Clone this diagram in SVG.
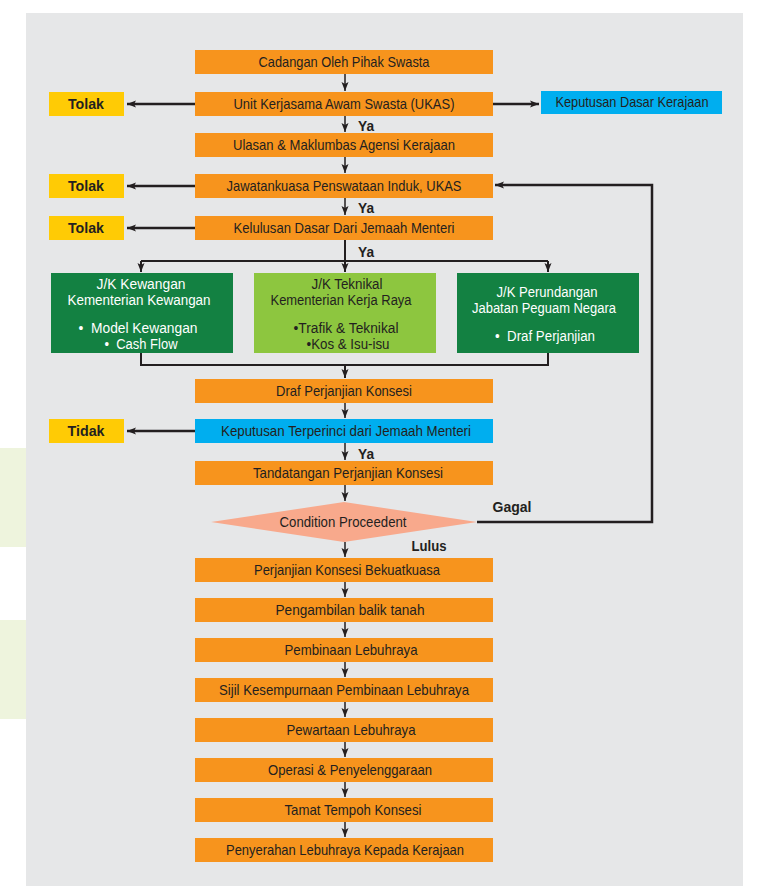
<svg xmlns="http://www.w3.org/2000/svg" width="769" height="886" viewBox="0 0 769 886">
<style>
.t{font-family:"Liberation Sans Narrow","Liberation Sans","DejaVu Sans Condensed",Arial,sans-serif;font-size:15px;fill:#231f20;text-anchor:middle}
.s{font-size:14px}
.w{fill:#ffffff}
.b{font-weight:bold;font-size:15px}
.or{fill:#f7941d}
.bl{fill:#00aeef}
.ye{fill:#ffcb05}
.dg{fill:#138142}
.lg{fill:#8dc63f}
.c{fill:none;stroke:#231f20}
.thin{stroke-width:1.5}
.thick{stroke-width:2.5}
.mid{stroke-width:2}
</style>
<defs>
<marker id="ah" markerUnits="userSpaceOnUse" markerWidth="10" markerHeight="10" viewBox="0 0 10 10" refX="9" refY="5" orient="auto">
<path d="M0,1.5 L9,5 L0,8.5 L2,5 z" fill="#231f20"/>
</marker>
</defs>
<rect x="0" y="0" width="769" height="886" fill="#ffffff"/>
<rect x="26" y="13" width="717" height="873" fill="#e6e7e8"/>
<rect x="0" y="448" width="26" height="99" fill="#eef4dd"/>
<rect x="0" y="620" width="26" height="99" fill="#eef4dd"/>

<g id="n1"><rect class="or" x="195" y="50" width="298" height="24"/><text class="t" x="344" y="67" textLength="171" lengthAdjust="spacingAndGlyphs">Cadangan Oleh Pihak Swasta</text></g>
<g id="n2"><rect class="or" x="195" y="92" width="298" height="24"/><text class="t" x="344" y="109" textLength="221" lengthAdjust="spacingAndGlyphs">Unit Kerjasama Awam Swasta (UKAS)</text></g>
<g id="tolak1"><rect class="ye" x="49" y="92" width="75" height="24"/><text class="t b" x="86" y="109" textLength="36" lengthAdjust="spacingAndGlyphs">Tolak</text></g>
<g id="kdk"><rect class="bl" x="541" y="91" width="181" height="23"/><text class="t" x="632" y="107" textLength="153" lengthAdjust="spacingAndGlyphs">Keputusan Dasar Kerajaan</text></g>
<g id="n3"><rect class="or" x="195" y="133" width="298" height="24"/><text class="t" x="344" y="150" textLength="222" lengthAdjust="spacingAndGlyphs">Ulasan &amp; Maklumbas Agensi Kerajaan</text></g>
<g id="n4"><rect class="or" x="195" y="174" width="298" height="24"/><text class="t" x="344" y="191" textLength="235" lengthAdjust="spacingAndGlyphs">Jawatankuasa Penswataan Induk, UKAS</text></g>
<g id="tolak2"><rect class="ye" x="49" y="174" width="75" height="24"/><text class="t b" x="86" y="191" textLength="36" lengthAdjust="spacingAndGlyphs">Tolak</text></g>
<g id="n5"><rect class="or" x="195" y="216" width="298" height="24"/><text class="t" x="344" y="233" textLength="221" lengthAdjust="spacingAndGlyphs">Kelulusan Dasar Dari Jemaah Menteri</text></g>
<g id="tolak3"><rect class="ye" x="49" y="216" width="75" height="24"/><text class="t b" x="86" y="233" textLength="36" lengthAdjust="spacingAndGlyphs">Tolak</text></g>

<g id="g1"><rect class="dg" x="51" y="273" width="182" height="80"/>
<text class="t s w" x="141" y="289" textLength="89" lengthAdjust="spacingAndGlyphs">J/K Kewangan</text>
<text class="t s w" x="139" y="305" textLength="143" lengthAdjust="spacingAndGlyphs">Kementerian Kewangan</text>
<text class="t s w" x="138" y="333" textLength="119" lengthAdjust="spacingAndGlyphs">•&#160;&#160;Model Kewangan</text>
<text class="t s w" x="141" y="349" textLength="73" lengthAdjust="spacingAndGlyphs">•&#160;&#160;Cash Flow</text></g>
<g id="g2"><rect class="lg" x="254" y="273" width="182" height="80"/>
<text class="t s" x="347" y="289" textLength="71" lengthAdjust="spacingAndGlyphs">J/K Teknikal</text>
<text class="t s" x="341" y="305" textLength="141" lengthAdjust="spacingAndGlyphs">Kementerian Kerja Raya</text>
<text class="t s" x="346" y="333" textLength="105" lengthAdjust="spacingAndGlyphs">•Trafik &amp; Teknikal</text>
<text class="t s" x="348" y="349" textLength="83" lengthAdjust="spacingAndGlyphs">•Kos &amp; Isu-isu</text></g>
<g id="g3"><rect class="dg" x="457" y="273" width="182" height="80"/>
<text class="t s w" x="547" y="297" textLength="101" lengthAdjust="spacingAndGlyphs">J/K Perundangan</text>
<text class="t s w" x="544" y="313" textLength="144" lengthAdjust="spacingAndGlyphs">Jabatan Peguam Negara</text>
<text class="t s w" x="545" y="341" textLength="100" lengthAdjust="spacingAndGlyphs">•&#160;&#160;Draf Perjanjian</text></g>

<g id="n6"><rect class="or" x="195" y="379" width="298" height="24"/><text class="t" x="344" y="396" textLength="136" lengthAdjust="spacingAndGlyphs">Draf Perjanjian Konsesi</text></g>
<g id="n7"><rect class="bl" x="195" y="419" width="298" height="24"/><text class="t" x="346" y="436" textLength="250" lengthAdjust="spacingAndGlyphs">Keputusan Terperinci dari Jemaah Menteri</text></g>
<g id="tidak"><rect class="ye" x="49" y="419" width="75" height="24"/><text class="t b" x="86" y="436" textLength="37" lengthAdjust="spacingAndGlyphs">Tidak</text></g>
<g id="n8"><rect class="or" x="195" y="461" width="298" height="24"/><text class="t" x="348" y="478" textLength="190" lengthAdjust="spacingAndGlyphs">Tandatangan Perjanjian Konsesi</text></g>
<g id="cp"><polygon points="344,502 477,522 344,542 211,522" fill="#f8a98c"/><text class="t" x="343" y="527" textLength="127" lengthAdjust="spacingAndGlyphs">Condition Proceedent</text></g>
<g id="n9"><rect class="or" x="195" y="558" width="298" height="24"/><text class="t" x="347" y="575" textLength="186" lengthAdjust="spacingAndGlyphs">Perjanjian Konsesi Bekuatkuasa</text></g>
<g id="n10"><rect class="or" x="195" y="598" width="298" height="24"/><text class="t" x="350" y="615" textLength="149" lengthAdjust="spacingAndGlyphs">Pengambilan balik tanah</text></g>
<g id="n11"><rect class="or" x="195" y="638" width="298" height="24"/><text class="t" x="351" y="655" textLength="133" lengthAdjust="spacingAndGlyphs">Pembinaan Lebuhraya</text></g>
<g id="n12"><rect class="or" x="195" y="678" width="298" height="24"/><text class="t" x="344" y="695" textLength="250" lengthAdjust="spacingAndGlyphs">Sijil Kesempurnaan Pembinaan Lebuhraya</text></g>
<g id="n13"><rect class="or" x="195" y="718" width="298" height="24"/><text class="t" x="351" y="735" textLength="129" lengthAdjust="spacingAndGlyphs">Pewartaan Lebuhraya</text></g>
<g id="n14"><rect class="or" x="195" y="758" width="298" height="24"/><text class="t" x="350" y="775" textLength="164" lengthAdjust="spacingAndGlyphs">Operasi &amp; Penyelenggaraan</text></g>
<g id="n15"><rect class="or" x="195" y="798" width="298" height="24"/><text class="t" x="353" y="815" textLength="137" lengthAdjust="spacingAndGlyphs">Tamat Tempoh Konsesi</text></g>
<g id="n16"><rect class="or" x="195" y="838" width="298" height="24"/><text class="t" x="345" y="855" textLength="238" lengthAdjust="spacingAndGlyphs">Penyerahan Lebuhraya Kepada Kerajaan</text></g>

<g id="connectors">
<path class="c thin" marker-end="url(#ah)" d="M345,74 V91"/>
<path class="c thin" marker-end="url(#ah)" d="M345,116 V132"/>
<path class="c thin" marker-end="url(#ah)" d="M345,157 V173"/>
<path class="c thin" marker-end="url(#ah)" d="M345,198 V215"/>
<path class="c thick" marker-end="url(#ah)" d="M195,104 H127"/>
<path class="c thick" marker-end="url(#ah)" d="M493,104 H539"/>
<path class="c thick" marker-end="url(#ah)" d="M195,186 H127"/>
<path class="c thick" marker-end="url(#ah)" d="M195,228 H127"/>
<path class="c mid" d="M345,240 V261 M141,261 H548"/>
<path class="c mid" marker-end="url(#ah)" d="M141,261 V272"/>
<path class="c mid" marker-end="url(#ah)" d="M345,261 V272"/>
<path class="c mid" marker-end="url(#ah)" d="M548,261 V272"/>
<path class="c mid" d="M141,353 V365 H548 V353"/>
<path class="c mid" marker-end="url(#ah)" d="M345,365 V378"/>
<path class="c thin" marker-end="url(#ah)" d="M345,403 V418"/>
<path class="c thick" marker-end="url(#ah)" d="M195,431 H127"/>
<path class="c thin" marker-end="url(#ah)" d="M345,443 V460"/>
<path class="c thin" marker-end="url(#ah)" d="M345,485 V501"/>
<path class="c thick" marker-end="url(#ah)" d="M477,522 H652 V185 H495"/>
<path class="c thin" marker-end="url(#ah)" d="M345,542 V557"/>
<path class="c thin" marker-end="url(#ah)" d="M345,582 V597"/>
<path class="c thin" marker-end="url(#ah)" d="M345,622 V637"/>
<path class="c thin" marker-end="url(#ah)" d="M345,662 V677"/>
<path class="c thin" marker-end="url(#ah)" d="M345,702 V717"/>
<path class="c thin" marker-end="url(#ah)" d="M345,742 V757"/>
<path class="c thin" marker-end="url(#ah)" d="M345,782 V797"/>
<path class="c thin" marker-end="url(#ah)" d="M345,822 V837"/>
<text class="t b" x="366" y="131" textLength="16" lengthAdjust="spacingAndGlyphs">Ya</text>
<text class="t b" x="366" y="213" textLength="16" lengthAdjust="spacingAndGlyphs">Ya</text>
<text class="t b" x="366" y="257" textLength="16" lengthAdjust="spacingAndGlyphs">Ya</text>
<text class="t b" x="366" y="459" textLength="16" lengthAdjust="spacingAndGlyphs">Ya</text>
<text class="t b" x="512" y="512" textLength="39" lengthAdjust="spacingAndGlyphs">Gagal</text>
<text class="t b" x="429" y="551" textLength="35" lengthAdjust="spacingAndGlyphs">Lulus</text>
</g>
</svg>
